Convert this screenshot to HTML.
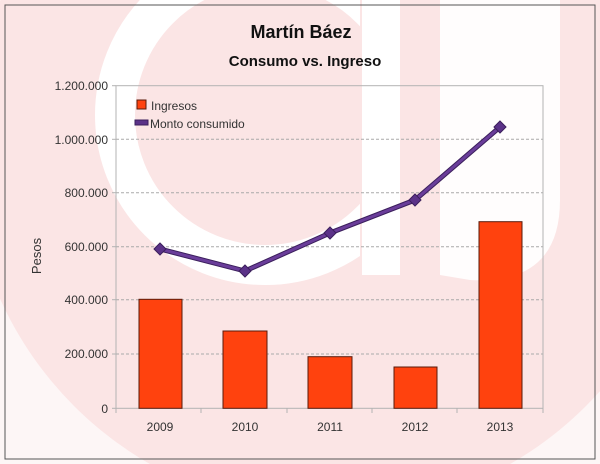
<!DOCTYPE html>
<html><head><meta charset="utf-8"><style>
html,body{margin:0;padding:0;background:#fff;overflow:hidden;width:600px;height:464px;}
#w{position:absolute;left:0;top:0;width:600px;height:464px;overflow:hidden;}
svg{display:block;overflow:hidden;font-family:"Liberation Sans",sans-serif;}
</style></head><body><div id="w">
<svg width="600" height="464" viewBox="0 0 600 464">
<defs><clipPath id="cl"><rect x="0" y="0" width="360" height="464"/></clipPath><clipPath id="all"><rect x="0" y="0" width="600" height="464"/></clipPath></defs>
<g clip-path="url(#all)">
<rect width="600" height="464" fill="#fdf6f6"/>
<circle cx="330" cy="150" r="362" fill="#fbe5e5"/>
<g clip-path="url(#cl)"><circle cx="265" cy="115" r="150" fill="none" stroke="#fff" stroke-width="40"/></g>
<rect x="362" y="0" width="38" height="275" fill="#fff"/>
<path d="M440 0 H560 V200 Q560 285 470 280 L440 275 Z" fill="#fff" opacity="0.9"/>
</g>
<rect x="5" y="5" width="590" height="454" fill="none" stroke="#555" stroke-width="1"/>
<text x="301" y="38" text-anchor="middle" font-size="18" font-weight="bold" fill="#111">Martín Báez</text>
<text x="305" y="66" text-anchor="middle" font-size="15" font-weight="bold" fill="#111">Consumo vs. Ingreso</text>
<g stroke="#aaa" stroke-dasharray="3,2" stroke-width="1">
<line x1="116" y1="139.3" x2="543" y2="139.3"/><line x1="116" y1="192.7" x2="543" y2="192.7"/>
<line x1="116" y1="246.7" x2="543" y2="246.7"/><line x1="116" y1="299.7" x2="543" y2="299.7"/>
<line x1="116" y1="354" x2="543" y2="354"/></g>
<rect x="116" y="85.7" width="427" height="322.6" fill="none" stroke="#b3b3b3"/>
<g stroke="#b3b3b3"><line x1="112" y1="85.7" x2="116" y2="85.7"/><line x1="112" y1="139.3" x2="116" y2="139.3"/><line x1="112" y1="192.7" x2="116" y2="192.7"/><line x1="112" y1="246.7" x2="116" y2="246.7"/><line x1="112" y1="299.7" x2="116" y2="299.7"/><line x1="112" y1="354" x2="116" y2="354"/><line x1="112" y1="408.3" x2="116" y2="408.3"/>
<line x1="116" y1="408" x2="116" y2="413"/><line x1="201" y1="408" x2="201" y2="413"/><line x1="287" y1="408" x2="287" y2="413"/><line x1="372" y1="408" x2="372" y2="413"/><line x1="457" y1="408" x2="457" y2="413"/><line x1="543" y1="408" x2="543" y2="413"/></g>
<g font-size="12" fill="#333" text-anchor="end">
<text x="108" y="90">1.200.000</text><text x="108" y="144">1.000.000</text><text x="108" y="197">800.000</text><text x="108" y="251">600.000</text><text x="108" y="304">400.000</text><text x="108" y="358">200.000</text><text x="108" y="413">0</text></g>
<g font-size="12" fill="#333" text-anchor="middle">
<text x="160" y="431">2009</text><text x="245" y="431">2010</text><text x="330" y="431">2011</text><text x="415" y="431">2012</text><text x="500" y="431">2013</text></g>
<text transform="translate(41,256) rotate(-90)" font-size="13" fill="#333" text-anchor="middle">Pesos</text>
<g fill="#ff420e" stroke="#5a1a0a" stroke-width="1">
<rect x="139" y="299.3" width="43" height="109"/><rect x="223" y="331" width="44" height="77.3"/>
<rect x="308" y="356.7" width="44" height="51.6"/><rect x="394" y="367" width="43" height="41.3"/>
<rect x="479" y="221.7" width="43" height="186.6"/></g>
<polyline points="160,249 245,271 330,233 415,200 500,127" fill="none" stroke="#3b1f5c" stroke-width="5" stroke-linejoin="round"/>
<polyline points="160,249 245,271 330,233 415,200 500,127" fill="none" stroke="#6a3d9a" stroke-width="3" stroke-linejoin="round"/>
<g fill="#5b3288" stroke="#3b1f5c">
<path d="M160 243 L166 249 L160 255 L154 249Z"/><path d="M245 265 L251 271 L245 277 L239 271Z"/><path d="M330 227 L336 233 L330 239 L324 233Z"/><path d="M415 194 L421 200 L415 206 L409 200Z"/><path d="M500 121 L506 127 L500 133 L494 127Z"/></g>
<rect x="137" y="100" width="9" height="9" fill="#ff420e" stroke="#5a1a0a"/>
<text x="151" y="110" font-size="12" fill="#333">Ingresos</text>
<rect x="135" y="120" width="13" height="5" fill="#5b3288" stroke="#3b1f5c"/>
<text x="150" y="128" font-size="12" fill="#333">Monto consumido</text>
</svg>
</div></body></html>
